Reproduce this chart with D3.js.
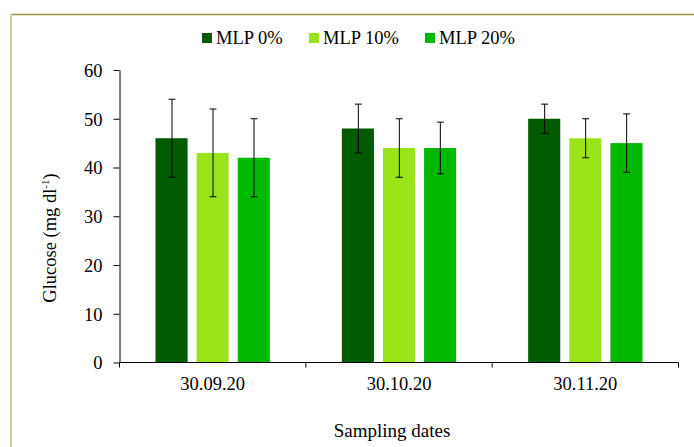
<!DOCTYPE html>
<html>
<head>
<meta charset="utf-8">
<script src="https://cdn.jsdelivr.net/npm/d3@7"></script>
<style>
  body { margin: 0; background: #fff; }
  svg text { font-family: "Liberation Serif", "Times New Roman", Times, serif; fill: #000; }
</style>
</head>
<body>
<div id="chart"></div>
<script>
// data
var dates = ["30.09.20", "30.10.20", "30.11.20"];
var series = ["MLP 0%", "MLP 10%", "MLP 20%"];
var colors = ["#005a00", "#99e519", "#00b800"];
var means = [
  [46, 43, 42],
  [48, 44, 44],
  [50, 46, 45]
];
var errs = [
  [8, 9, 8],
  [5, 6, 5.3],
  [3, 4, 6]
];
var yTicks = [0, 10, 20, 30, 40, 50, 60];

var width = 694, height = 447;
var margin = { top: 70, right: 16, bottom: 85, left: 119.5 };

var svg = d3.select("#chart").append("svg")
  .attr("width", width)
  .attr("height", height);

// chart area frame (only top and left visible)
svg.append("line").attr("x1", 11).attr("x2", width).attr("y1", 14.5).attr("y2", 14.5)
  .attr("stroke", "#9c9140").attr("stroke-width", 1.5);
svg.append("line").attr("x1", 11).attr("x2", 11).attr("y1", 14).attr("y2", height)
  .attr("stroke", "#d3cb9d").attr("stroke-width", 2);

var x0 = d3.scaleBand()
  .domain(dates)
  .range([margin.left, 678.5]);

var x1 = d3.scaleBand()
  .domain(series)
  .range([36, x0.bandwidth() - 36])
  .paddingInner(0.22);

var y = d3.scaleLinear()
  .domain([0, 60])
  .range([362.5, 70]);

var g = svg.append("g");

var groups = g.selectAll("g.grp")
  .data(dates)
  .enter().append("g")
  .attr("class", "grp")
  .attr("transform", function(d) { return "translate(" + x0(d) + ",0)"; });

groups.selectAll("rect")
  .data(function(d, i) { return series.map(function(s, j) { return { s: s, j: j, v: means[i][j], e: errs[i][j] }; }); })
  .enter().append("rect")
  .attr("x", function(d) { return x1(d.s); })
  .attr("width", x1.bandwidth())
  .attr("y", function(d) { return y(d.v); })
  .attr("height", function(d) { return y(0) - y(d.v); })
  .attr("fill", function(d) { return colors[d.j]; });

// error bars
var eb = groups.selectAll("g.err")
  .data(function(d, i) { return series.map(function(s, j) { return { s: s, v: means[i][j], e: errs[i][j] }; }); })
  .enter().append("g").attr("class", "err")
  .attr("stroke", "#000").attr("stroke-width", 1);

function cx(d) { return Math.round(x1(d.s) + x1.bandwidth() / 2) + 0.5; }
eb.append("line")
  .attr("x1", cx).attr("x2", cx)
  .attr("y1", function(d) { return y(d.v + d.e); })
  .attr("y2", function(d) { return y(d.v - d.e); });
eb.append("line")
  .attr("x1", function(d) { return cx(d) - 3.5; })
  .attr("x2", function(d) { return cx(d) + 3.5; })
  .attr("y1", function(d) { return y(d.v + d.e); })
  .attr("y2", function(d) { return y(d.v + d.e); });
eb.append("line")
  .attr("x1", function(d) { return cx(d) - 3.5; })
  .attr("x2", function(d) { return cx(d) + 3.5; })
  .attr("y1", function(d) { return y(d.v - d.e); })
  .attr("y2", function(d) { return y(d.v - d.e); });

// y axis
var yAxis = svg.append("g")
  .attr("transform", "translate(" + margin.left + ",0)")
  .call(d3.axisLeft(y).tickValues(yTicks).tickSize(6).tickSizeOuter(0).tickPadding(11));
yAxis.attr("font-family", null).attr("font-size", null);
yAxis.selectAll("text").style("font-size", "18.5px").attr("dy", "0.34em");
yAxis.selectAll("line, path").attr("stroke", "#000");

// x axis with ticks at band edges
var xAxis = svg.append("g")
  .attr("transform", "translate(0," + y(0) + ")");
xAxis.append("line")
  .attr("x1", margin.left).attr("x2", x0.range()[1])
  .attr("stroke", "#000");
var edges = dates.map(function(d) { return x0(d); }).concat([x0.range()[1]]);
xAxis.selectAll("line.tk")
  .data(edges).enter().append("line").attr("class", "tk")
  .attr("x1", function(d) { return d; }).attr("x2", function(d) { return d; })
  .attr("y1", 0).attr("y2", 5).attr("stroke", "#000");
xAxis.selectAll("text")
  .data(dates).enter().append("text")
  .attr("x", function(d) { return x0(d) + x0.bandwidth() / 2; })
  .attr("y", 27.5)
  .attr("text-anchor", "middle")
  .style("font-size", "18.5px")
  .text(function(d) { return d; });

// axis titles
svg.append("text")
  .attr("x", 392).attr("y", 437)
  .attr("text-anchor", "middle")
  .style("font-size", "19px")
  .text("Sampling dates");

var yt = svg.append("text")
  .attr("transform", "translate(56,238) rotate(-90)")
  .attr("text-anchor", "middle")
  .style("font-size", "18.5px");
yt.append("tspan").text("Glucose (mg dl");
yt.append("tspan").style("font-size", "11px").attr("dy", -7).text("-1");
yt.append("tspan").attr("dy", 7).text(")");

// legend
var legX = [202, 309, 425];
var leg = svg.selectAll("g.leg")
  .data(series).enter().append("g").attr("class", "leg")
  .attr("transform", function(d, i) { return "translate(" + legX[i] + ",33)"; });
leg.append("rect").attr("width", 10).attr("height", 10)
  .attr("fill", function(d, i) { return colors[i]; });
leg.append("text").attr("x", 14).attr("y", 10.5)
  .style("font-size", "18.5px")
  .text(function(d) { return d; });
</script>
</body>
</html>
